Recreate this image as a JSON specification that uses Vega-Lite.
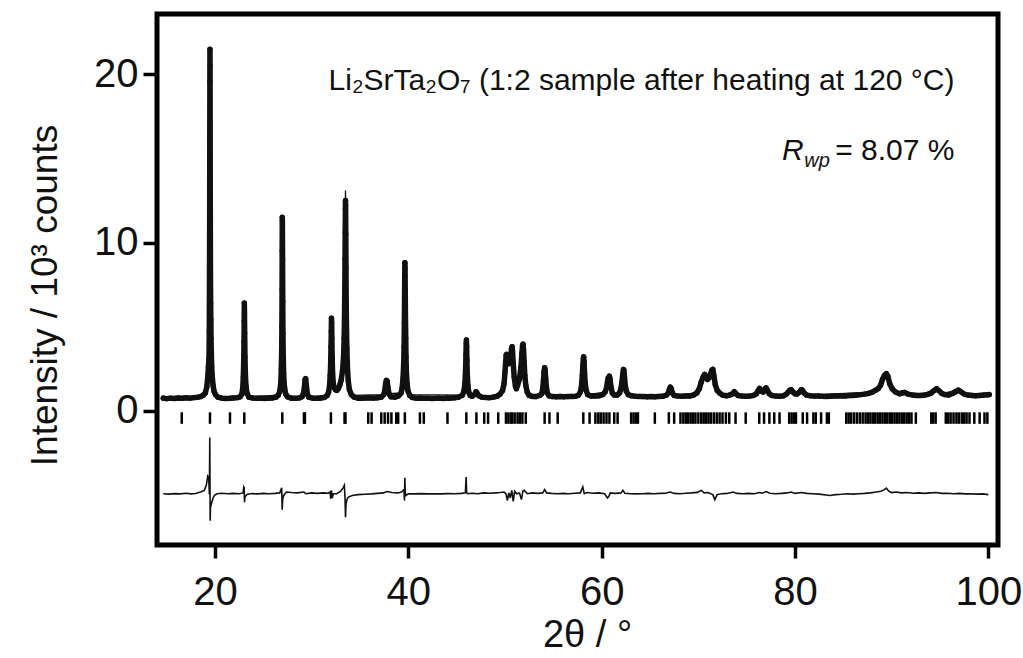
{
  "$schema": "https://vega.github.io/schema/vega-lite/v6.json",
  "width": 841,
  "height": 531,
  "autosize": {"type": "none"},
  "padding": {"left": 157, "top": 14, "right": 25, "bottom": 113},
  "background": "white",
  "config": {
    "font": "Liberation Sans",
    "view": {"stroke": "#000", "strokeWidth": 5},
    "axis": {
      "domain": false, "grid": false, "ticks": true, "tickColor": "#000", "tickWidth": 3.5,
      "labelFont": "Liberation Sans", "labelFontSize": 40, "labelColor": "#111",
      "titleFont": "Liberation Sans", "titleFontSize": 37, "titleFontWeight": "normal", "titleColor": "#111"
    }
  },
  "datasets": {
    "obs": [
      {"t":14.65,"i":0.74},{"t":15.0,"i":0.71},{"t":15.4,"i":0.74},{"t":15.8,"i":0.72},{"t":16.2,"i":0.75},{"t":16.6,"i":0.73},{"t":17.0,"i":0.76},{"t":17.4,"i":0.74},{"t":17.8,"i":0.77},{"t":18.2,"i":0.79},{"t":18.5,"i":0.83},{"t":18.8,"i":0.92},
      {"t":19.0,"i":1.05},{"t":19.15,"i":1.4},{"t":19.25,"i":2.0},{"t":19.32,"i":2.6},{"t":19.38,"i":3.1},{"t":19.41,"i":4.7},{"t":19.43,"i":7.3},{"t":19.44,"i":10.05},{"t":19.45,"i":11.2},{"t":19.46,"i":16.0},{"t":19.47,"i":19.6},{"t":19.48,"i":21.5},{"t":19.49,"i":20.5},{"t":19.51,"i":12.5},{"t":19.53,"i":8.0},{"t":19.55,"i":6.4},{"t":19.57,"i":5.4},{"t":19.59,"i":4.3},{"t":19.62,"i":3.4},{"t":19.66,"i":2.6},{"t":19.72,"i":2.0},{"t":19.8,"i":1.5},{"t":19.9,"i":1.15},{"t":20.05,"i":0.95},{"t":20.3,"i":0.8},
      {"t":20.7,"i":0.74},{"t":21.1,"i":0.72},{"t":21.5,"i":0.73},{"t":21.9,"i":0.75},{"t":22.3,"i":0.77},{"t":22.6,"i":0.82},
      {"t":22.78,"i":0.98},{"t":22.87,"i":1.35},{"t":22.93,"i":2.0},{"t":22.97,"i":2.9},{"t":23.0,"i":4.1},{"t":23.02,"i":5.3},{"t":23.035,"i":6.4},{"t":23.05,"i":5.8},{"t":23.07,"i":4.6},{"t":23.1,"i":3.2},{"t":23.14,"i":2.2},{"t":23.2,"i":1.5},{"t":23.3,"i":1.05},{"t":23.5,"i":0.8},
      {"t":23.9,"i":0.75},{"t":24.3,"i":0.73},{"t":24.7,"i":0.74},{"t":25.1,"i":0.72},{"t":25.5,"i":0.74},{"t":25.9,"i":0.75},{"t":26.3,"i":0.8},{"t":26.55,"i":0.92},
      {"t":26.7,"i":1.15},{"t":26.8,"i":1.6},{"t":26.86,"i":2.5},{"t":26.9,"i":3.6},{"t":26.92,"i":5.0},{"t":26.94,"i":7.2},{"t":26.95,"i":9.5},{"t":26.96,"i":11.5},{"t":26.97,"i":11.3},{"t":26.99,"i":9.0},{"t":27.01,"i":6.5},{"t":27.03,"i":4.6},{"t":27.06,"i":3.2},{"t":27.1,"i":2.2},{"t":27.17,"i":1.5},{"t":27.3,"i":1.0},{"t":27.5,"i":0.82},
      {"t":27.9,"i":0.74},{"t":28.3,"i":0.73},{"t":28.7,"i":0.75},{"t":29.0,"i":0.82},
      {"t":29.15,"i":1.0},{"t":29.25,"i":1.4},{"t":29.32,"i":1.85},{"t":29.38,"i":1.9},{"t":29.45,"i":1.5},{"t":29.55,"i":1.0},{"t":29.7,"i":0.8},
      {"t":30.1,"i":0.74},{"t":30.5,"i":0.73},{"t":30.9,"i":0.74},{"t":31.3,"i":0.78},{"t":31.6,"i":0.9},
      {"t":31.75,"i":1.1},{"t":31.85,"i":1.5},{"t":31.92,"i":2.1},{"t":31.97,"i":2.9},{"t":32.0,"i":3.8},{"t":32.03,"i":4.7},{"t":32.05,"i":5.5},{"t":32.07,"i":5.2},{"t":32.09,"i":4.3},{"t":32.12,"i":3.2},{"t":32.16,"i":2.3},{"t":32.22,"i":1.7},{"t":32.3,"i":1.4},
      {"t":32.45,"i":1.25},{"t":32.6,"i":1.2},{"t":32.75,"i":1.3},{"t":32.9,"i":1.5},{"t":33.05,"i":1.8},{"t":33.2,"i":2.4},{"t":33.3,"i":3.2},{"t":33.36,"i":4.3},{"t":33.4,"i":5.6},{"t":33.43,"i":7.3},{"t":33.45,"i":9.0},{"t":33.47,"i":10.6},{"t":33.49,"i":12.0},{"t":33.5,"i":12.5},{"t":33.51,"i":12.2},{"t":33.53,"i":10.5},{"t":33.55,"i":8.5},{"t":33.57,"i":6.6},{"t":33.6,"i":5.0},{"t":33.64,"i":3.7},{"t":33.7,"i":2.6},{"t":33.78,"i":1.8},{"t":33.9,"i":1.25},{"t":34.1,"i":0.95},{"t":34.4,"i":0.8},
      {"t":34.8,"i":0.74},{"t":35.2,"i":0.73},{"t":35.6,"i":0.75},{"t":36.0,"i":0.76},{"t":36.4,"i":0.74},{"t":36.8,"i":0.76},{"t":37.2,"i":0.8},{"t":37.45,"i":0.95},
      {"t":37.55,"i":1.15},{"t":37.65,"i":1.6},{"t":37.73,"i":1.8},{"t":37.8,"i":1.75},{"t":37.88,"i":1.4},{"t":38.0,"i":1.0},{"t":38.2,"i":0.82},
      {"t":38.6,"i":0.8},{"t":39.0,"i":0.88},{"t":39.25,"i":1.05},
      {"t":39.35,"i":1.3},{"t":39.45,"i":1.9},{"t":39.52,"i":2.8},{"t":39.56,"i":3.8},{"t":39.59,"i":5.2},{"t":39.61,"i":6.6},{"t":39.63,"i":8.0},{"t":39.645,"i":8.8},{"t":39.66,"i":8.5},{"t":39.68,"i":7.2},{"t":39.7,"i":5.7},{"t":39.73,"i":4.3},{"t":39.76,"i":3.2},{"t":39.8,"i":2.3},{"t":39.87,"i":1.6},{"t":39.97,"i":1.15},{"t":40.15,"i":0.9},{"t":40.4,"i":0.78},
      {"t":40.8,"i":0.74},{"t":41.2,"i":0.75},{"t":41.6,"i":0.73},{"t":42.0,"i":0.74},{"t":42.4,"i":0.72},{"t":42.8,"i":0.73},{"t":43.2,"i":0.74},{"t":43.6,"i":0.72},{"t":44.0,"i":0.75},{"t":44.4,"i":0.74},{"t":44.8,"i":0.76},{"t":45.2,"i":0.8},{"t":45.6,"i":0.92},
      {"t":45.75,"i":1.15},{"t":45.85,"i":1.6},{"t":45.92,"i":2.4},{"t":45.96,"i":3.3},{"t":45.99,"i":4.0},{"t":46.01,"i":4.2},{"t":46.03,"i":3.8},{"t":46.06,"i":3.0},{"t":46.1,"i":2.1},{"t":46.16,"i":1.5},{"t":46.25,"i":1.1},{"t":46.4,"i":0.9},
      {"t":46.6,"i":0.85},{"t":46.85,"i":0.95},{"t":47.0,"i":1.12},{"t":47.1,"i":1.05},{"t":47.3,"i":0.88},{"t":47.6,"i":0.8},
      {"t":48.0,"i":0.78},{"t":48.4,"i":0.77},{"t":48.8,"i":0.8},{"t":49.2,"i":0.86},{"t":49.5,"i":0.98},
      {"t":49.75,"i":1.2},{"t":49.9,"i":1.6},{"t":50.0,"i":2.3},{"t":50.07,"i":2.9},{"t":50.12,"i":3.3},{"t":50.16,"i":3.35},{"t":50.2,"i":3.1},{"t":50.3,"i":2.9},{"t":50.4,"i":2.8},{"t":50.5,"i":2.9},{"t":50.6,"i":3.3},{"t":50.68,"i":3.7},{"t":50.73,"i":3.8},{"t":50.78,"i":3.5},{"t":50.85,"i":2.8},{"t":50.95,"i":2.0},{"t":51.08,"i":1.45},{"t":51.18,"i":1.3},{"t":51.3,"i":1.5},{"t":51.5,"i":1.9},{"t":51.65,"i":2.6},{"t":51.75,"i":3.4},{"t":51.82,"i":3.9},{"t":51.87,"i":3.95},{"t":51.92,"i":3.6},{"t":51.98,"i":2.9},{"t":52.05,"i":2.1},{"t":52.15,"i":1.5},{"t":52.3,"i":1.1},{"t":52.5,"i":0.9},
      {"t":52.8,"i":0.84},{"t":53.2,"i":0.83},{"t":53.6,"i":0.9},
      {"t":53.8,"i":1.0},{"t":53.9,"i":1.3},{"t":53.98,"i":1.8},{"t":54.04,"i":2.3},{"t":54.1,"i":2.55},{"t":54.15,"i":2.4},{"t":54.21,"i":1.9},{"t":54.28,"i":1.4},{"t":54.38,"i":1.05},{"t":54.55,"i":0.88},
      {"t":54.9,"i":0.83},{"t":55.3,"i":0.82},{"t":55.7,"i":0.84},{"t":56.1,"i":0.82},{"t":56.5,"i":0.83},{"t":56.9,"i":0.84},{"t":57.3,"i":0.85},{"t":57.6,"i":0.92},
      {"t":57.8,"i":1.1},{"t":57.92,"i":1.5},{"t":58.0,"i":2.1},{"t":58.06,"i":2.7},{"t":58.11,"i":3.1},{"t":58.14,"i":3.2},{"t":58.18,"i":2.9},{"t":58.23,"i":2.2},{"t":58.3,"i":1.6},{"t":58.4,"i":1.2},{"t":58.55,"i":0.95},
      {"t":58.9,"i":0.87},{"t":59.3,"i":0.86},{"t":59.7,"i":0.88},{"t":60.1,"i":0.95},{"t":60.35,"i":1.1},
      {"t":60.5,"i":1.35},{"t":60.6,"i":1.7},{"t":60.68,"i":1.95},{"t":60.74,"i":1.85},{"t":60.8,"i":2.05},{"t":60.86,"i":1.9},{"t":60.95,"i":1.45},{"t":61.1,"i":1.05},{"t":61.3,"i":0.92},
      {"t":61.6,"i":0.92},{"t":61.85,"i":1.05},{"t":62.0,"i":1.3},{"t":62.1,"i":1.7},{"t":62.18,"i":2.15},{"t":62.25,"i":2.45},{"t":62.3,"i":2.4},{"t":62.36,"i":2.0},{"t":62.44,"i":1.5},{"t":62.55,"i":1.15},{"t":62.75,"i":0.95},
      {"t":63.1,"i":0.88},{"t":63.5,"i":0.85},{"t":63.9,"i":0.84},{"t":64.3,"i":0.83},{"t":64.7,"i":0.82},{"t":65.1,"i":0.83},{"t":65.5,"i":0.82},{"t":65.9,"i":0.84},{"t":66.3,"i":0.85},{"t":66.7,"i":0.92},
      {"t":66.9,"i":1.05},{"t":67.0,"i":1.25},{"t":67.1,"i":1.4},{"t":67.2,"i":1.3},{"t":67.32,"i":1.05},{"t":67.5,"i":0.9},
      {"t":67.9,"i":0.86},{"t":68.3,"i":0.85},{"t":68.7,"i":0.86},{"t":69.1,"i":0.87},{"t":69.5,"i":0.92},{"t":69.85,"i":1.05},
      {"t":70.1,"i":1.3},{"t":70.3,"i":1.7},{"t":70.5,"i":2.0},{"t":70.65,"i":2.15},{"t":70.8,"i":2.0},{"t":70.95,"i":1.85},{"t":71.1,"i":1.95},{"t":71.25,"i":2.15},{"t":71.4,"i":2.4},{"t":71.5,"i":2.45},{"t":71.6,"i":2.1},{"t":71.75,"i":1.55},{"t":71.95,"i":1.2},{"t":72.2,"i":1.05},{"t":72.5,"i":0.92},
      {"t":72.9,"i":0.88},{"t":73.25,"i":0.92},{"t":73.55,"i":1.0},{"t":73.72,"i":1.12},{"t":73.9,"i":1.0},{"t":74.1,"i":0.9},
      {"t":74.5,"i":0.86},{"t":74.9,"i":0.85},{"t":75.3,"i":0.86},{"t":75.7,"i":0.9},
      {"t":76.0,"i":1.0},{"t":76.2,"i":1.2},{"t":76.33,"i":1.32},{"t":76.5,"i":1.15},{"t":76.7,"i":1.1},{"t":76.85,"i":1.25},{"t":77.0,"i":1.35},{"t":77.15,"i":1.2},{"t":77.35,"i":1.0},{"t":77.6,"i":0.9},
      {"t":78.0,"i":0.86},{"t":78.4,"i":0.85},{"t":78.8,"i":0.88},{"t":79.1,"i":0.98},
      {"t":79.3,"i":1.1},{"t":79.45,"i":1.2},{"t":79.6,"i":1.25},{"t":79.8,"i":1.1},{"t":80.0,"i":1.0},{"t":80.2,"i":0.98},{"t":80.45,"i":1.1},{"t":80.65,"i":1.25},{"t":80.75,"i":1.22},{"t":80.95,"i":1.05},{"t":81.2,"i":0.92},
      {"t":81.6,"i":0.88},{"t":82.0,"i":0.86},{"t":82.4,"i":0.87},{"t":82.8,"i":0.85},{"t":83.2,"i":0.84},{"t":83.6,"i":0.85},{"t":84.0,"i":0.86},{"t":84.4,"i":0.86},{"t":84.8,"i":0.88},{"t":85.2,"i":0.87},{"t":85.6,"i":0.89},{"t":86.0,"i":0.9},{"t":86.4,"i":0.92},{"t":86.8,"i":0.95},{"t":87.2,"i":0.98},{"t":87.6,"i":1.02},{"t":88.0,"i":1.1},
      {"t":88.3,"i":1.2},{"t":88.6,"i":1.3},{"t":88.85,"i":1.5},{"t":89.05,"i":1.85},{"t":89.25,"i":2.1},{"t":89.45,"i":2.2},{"t":89.6,"i":2.05},{"t":89.8,"i":1.6},{"t":90.05,"i":1.3},{"t":90.4,"i":1.1},{"t":90.8,"i":1.0},{"t":91.1,"i":1.05},{"t":91.35,"i":1.08},{"t":91.7,"i":0.98},{"t":92.2,"i":0.92},
      {"t":92.6,"i":0.9},{"t":93.0,"i":0.9},{"t":93.4,"i":0.92},{"t":93.8,"i":0.98},
      {"t":94.1,"i":1.05},{"t":94.4,"i":1.2},{"t":94.65,"i":1.3},{"t":94.9,"i":1.18},{"t":95.2,"i":1.02},{"t":95.5,"i":0.95},
      {"t":95.9,"i":0.93},{"t":96.3,"i":1.02},{"t":96.6,"i":1.12},{"t":96.9,"i":1.22},{"t":97.2,"i":1.1},{"t":97.5,"i":0.98},{"t":97.9,"i":0.92},
      {"t":98.3,"i":0.9},{"t":98.7,"i":0.88},{"t":99.1,"i":0.9},{"t":99.5,"i":0.92},{"t":99.9,"i":0.94},{"t":100.1,"i":0.95}
    ],
    "calc": [
      {"t":14.65,"i":0.74},{"t":18.5,"i":0.82},{"t":18.8,"i":0.9},{"t":19.0,"i":1.05},{"t":19.15,"i":1.4},{"t":19.25,"i":2.0},{"t":19.32,"i":2.6},{"t":19.38,"i":3.3},{"t":19.42,"i":5.5},{"t":19.45,"i":11.0},{"t":19.47,"i":17.5},{"t":19.485,"i":19.7},{"t":19.5,"i":18.5},{"t":19.52,"i":13.0},{"t":19.55,"i":7.2},{"t":19.6,"i":4.4},{"t":19.66,"i":2.7},{"t":19.72,"i":2.0},{"t":19.8,"i":1.5},{"t":19.9,"i":1.15},{"t":20.05,"i":0.95},{"t":20.3,"i":0.8},
      {"t":22.6,"i":0.82},{"t":22.78,"i":0.98},{"t":22.87,"i":1.35},{"t":22.93,"i":2.0},{"t":22.98,"i":3.3},{"t":23.01,"i":4.9},{"t":23.035,"i":6.3},{"t":23.06,"i":5.3},{"t":23.09,"i":3.6},{"t":23.14,"i":2.2},{"t":23.2,"i":1.5},{"t":23.3,"i":1.05},{"t":23.5,"i":0.8},
      {"t":26.55,"i":0.92},{"t":26.7,"i":1.15},{"t":26.8,"i":1.6},{"t":26.86,"i":2.5},{"t":26.91,"i":4.3},{"t":26.94,"i":7.5},{"t":26.96,"i":11.4},{"t":26.98,"i":10.2},{"t":27.01,"i":6.6},{"t":27.05,"i":3.6},{"t":27.1,"i":2.2},{"t":27.17,"i":1.5},{"t":27.3,"i":1.0},{"t":27.5,"i":0.82},
      {"t":29.0,"i":0.82},{"t":29.15,"i":1.0},{"t":29.25,"i":1.4},{"t":29.35,"i":1.88},{"t":29.45,"i":1.5},{"t":29.55,"i":1.0},{"t":29.7,"i":0.8},
      {"t":31.6,"i":0.9},{"t":31.75,"i":1.1},{"t":31.9,"i":1.9},{"t":31.98,"i":3.1},{"t":32.02,"i":4.6},{"t":32.05,"i":5.4},{"t":32.08,"i":4.9},{"t":32.12,"i":3.3},{"t":32.2,"i":1.8},{"t":32.3,"i":1.4},{"t":32.6,"i":1.2},{"t":32.9,"i":1.5},{"t":33.2,"i":2.4},{"t":33.33,"i":3.6},{"t":33.4,"i":5.8},{"t":33.45,"i":9.2},{"t":33.48,"i":12.0},{"t":33.5,"i":13.1},{"t":33.52,"i":11.8},{"t":33.56,"i":7.5},{"t":33.6,"i":5.0},{"t":33.65,"i":3.5},{"t":33.72,"i":2.4},{"t":33.8,"i":1.7},{"t":33.95,"i":1.15},{"t":34.2,"i":0.9},
      {"t":37.45,"i":0.95},{"t":37.55,"i":1.15},{"t":37.65,"i":1.6},{"t":37.76,"i":1.8},{"t":37.88,"i":1.4},{"t":38.0,"i":1.0},
      {"t":39.25,"i":1.05},{"t":39.4,"i":1.5},{"t":39.5,"i":2.4},{"t":39.57,"i":4.0},{"t":39.61,"i":6.4},{"t":39.645,"i":8.7},{"t":39.67,"i":8.0},{"t":39.7,"i":5.9},{"t":39.75,"i":3.5},{"t":39.8,"i":2.3},{"t":39.9,"i":1.45},{"t":40.1,"i":0.95},
      {"t":45.6,"i":0.92},{"t":45.8,"i":1.3},{"t":45.9,"i":2.0},{"t":45.96,"i":3.3},{"t":46.01,"i":4.15},{"t":46.05,"i":3.4},{"t":46.1,"i":2.2},{"t":46.2,"i":1.3},{"t":46.4,"i":0.9},{"t":47.0,"i":1.1},{"t":47.6,"i":0.8},
      {"t":49.5,"i":0.98},{"t":49.75,"i":1.2},{"t":49.9,"i":1.6},{"t":50.0,"i":2.3},{"t":50.08,"i":3.0},{"t":50.15,"i":3.4},{"t":50.22,"i":3.1},{"t":50.35,"i":2.85},{"t":50.5,"i":2.95},{"t":50.62,"i":3.4},{"t":50.72,"i":3.85},{"t":50.8,"i":3.4},{"t":50.9,"i":2.4},{"t":51.05,"i":1.55},{"t":51.18,"i":1.3},{"t":51.35,"i":1.6},{"t":51.55,"i":2.1},{"t":51.7,"i":3.0},{"t":51.8,"i":3.8},{"t":51.87,"i":4.05},{"t":51.94,"i":3.4},{"t":52.02,"i":2.4},{"t":52.15,"i":1.5},{"t":52.3,"i":1.1},{"t":52.5,"i":0.9},
      {"t":53.6,"i":0.9},{"t":53.8,"i":1.0},{"t":53.95,"i":1.6},{"t":54.05,"i":2.35},{"t":54.1,"i":2.5},{"t":54.17,"i":2.2},{"t":54.25,"i":1.6},{"t":54.38,"i":1.05},{"t":54.55,"i":0.88},
      {"t":57.6,"i":0.92},{"t":57.8,"i":1.1},{"t":57.95,"i":1.75},{"t":58.05,"i":2.6},{"t":58.13,"i":3.15},{"t":58.19,"i":2.8},{"t":58.26,"i":1.9},{"t":58.35,"i":1.35},{"t":58.55,"i":0.95},
      {"t":60.35,"i":1.1},{"t":60.5,"i":1.35},{"t":60.65,"i":1.9},{"t":60.75,"i":1.95},{"t":60.82,"i":2.0},{"t":60.9,"i":1.7},{"t":61.0,"i":1.3},{"t":61.2,"i":1.0},{"t":61.85,"i":1.05},{"t":62.05,"i":1.45},{"t":62.18,"i":2.15},{"t":62.26,"i":2.5},{"t":62.33,"i":2.25},{"t":62.42,"i":1.6},{"t":62.55,"i":1.15},{"t":62.75,"i":0.95},
      {"t":66.7,"i":0.92},{"t":67.1,"i":1.4},{"t":67.5,"i":0.9},{"t":69.85,"i":1.05},{"t":70.3,"i":1.7},{"t":70.62,"i":2.2},{"t":70.95,"i":1.85},{"t":71.45,"i":2.5},{"t":71.75,"i":1.55},{"t":72.2,"i":1.05},{"t":72.5,"i":0.92},{"t":73.72,"i":1.12},{"t":74.1,"i":0.9},
      {"t":75.7,"i":0.9},{"t":76.33,"i":1.32},{"t":76.7,"i":1.1},{"t":77.0,"i":1.35},{"t":77.6,"i":0.9},{"t":79.1,"i":0.98},{"t":79.6,"i":1.25},{"t":80.2,"i":0.98},{"t":80.7,"i":1.25},{"t":81.2,"i":0.92},
      {"t":88.0,"i":1.1},{"t":88.6,"i":1.3},{"t":89.05,"i":1.85},{"t":89.45,"i":2.22},{"t":89.8,"i":1.6},{"t":90.4,"i":1.1},{"t":91.3,"i":1.08},{"t":92.2,"i":0.92},{"t":94.1,"i":1.05},{"t":94.65,"i":1.3},{"t":95.2,"i":1.02},{"t":96.9,"i":1.22},{"t":97.9,"i":0.92},{"t":100.1,"i":0.95}
    ],
    "diff": [
      {"t":14.65,"i":-4.95},{"t":15.2,"i":-4.97},{"t":15.8,"i":-4.94},{"t":16.4,"i":-4.96},{"t":17.0,"i":-4.92},{"t":17.5,"i":-4.96},{"t":18.0,"i":-4.94},{"t":18.5,"i":-4.85},{"t":18.9,"i":-4.75},{"t":19.1,"i":-4.45},{"t":19.25,"i":-3.9},{"t":19.35,"i":-4.0},{"t":19.42,"i":-5.0},{"t":19.46,"i":-1.6},{"t":19.48,"i":-4.0},{"t":19.5,"i":-6.55},{"t":19.53,"i":-5.8},{"t":19.6,"i":-5.6},{"t":19.7,"i":-5.4},{"t":19.8,"i":-5.2},{"t":19.95,"i":-5.05},{"t":20.2,"i":-4.95},
      {"t":20.7,"i":-4.92},{"t":21.3,"i":-4.95},{"t":21.9,"i":-4.93},{"t":22.5,"i":-4.95},{"t":22.9,"i":-4.9},{"t":22.98,"i":-4.55},{"t":23.02,"i":-4.6},{"t":23.05,"i":-5.45},{"t":23.1,"i":-5.15},{"t":23.3,"i":-5.0},{"t":23.8,"i":-4.94},{"t":24.4,"i":-4.96},{"t":25.0,"i":-4.93},{"t":25.6,"i":-4.95},{"t":26.2,"i":-4.93},{"t":26.7,"i":-4.9},{"t":26.9,"i":-4.6},{"t":26.95,"i":-5.9},{"t":27.0,"i":-5.3},{"t":27.1,"i":-5.05},{"t":27.4,"i":-4.85},
      {"t":27.9,"i":-4.88},{"t":28.5,"i":-4.9},{"t":29.2,"i":-4.85},{"t":29.4,"i":-4.95},{"t":30.0,"i":-4.9},{"t":30.6,"i":-4.93},{"t":31.2,"i":-4.9},{"t":31.7,"i":-4.92},{"t":31.9,"i":-4.85},{"t":31.98,"i":-5.25},{"t":32.05,"i":-4.75},{"t":32.12,"i":-5.2},{"t":32.25,"i":-4.95},{"t":32.6,"i":-4.95},{"t":33.0,"i":-4.8},{"t":33.25,"i":-4.6},{"t":33.38,"i":-4.45},{"t":33.45,"i":-5.2},{"t":33.5,"i":-6.35},{"t":33.55,"i":-5.6},{"t":33.65,"i":-5.3},{"t":33.8,"i":-5.15},{"t":34.2,"i":-5.05},
      {"t":34.8,"i":-5.0},{"t":35.5,"i":-4.98},{"t":36.2,"i":-4.96},{"t":36.8,"i":-4.93},{"t":37.4,"i":-4.9},{"t":37.8,"i":-4.82},{"t":38.3,"i":-4.88},{"t":38.9,"i":-4.9},{"t":39.3,"i":-4.85},{"t":39.55,"i":-4.7},{"t":39.6,"i":-5.35},{"t":39.64,"i":-4.0},{"t":39.68,"i":-4.9},{"t":39.75,"i":-5.05},{"t":40.0,"i":-4.95},
      {"t":40.6,"i":-4.96},{"t":41.3,"i":-4.94},{"t":42.0,"i":-4.96},{"t":42.7,"i":-4.95},{"t":43.4,"i":-4.96},{"t":44.1,"i":-4.94},{"t":44.8,"i":-4.95},{"t":45.5,"i":-4.93},{"t":45.9,"i":-4.9},{"t":45.98,"i":-3.95},{"t":46.03,"i":-4.85},{"t":46.1,"i":-4.95},{"t":46.6,"i":-4.92},{"t":47.2,"i":-4.95},{"t":47.8,"i":-4.9},{"t":48.4,"i":-4.92},{"t":49.0,"i":-4.9},{"t":49.5,"i":-4.88},{"t":49.9,"i":-4.85},
      {"t":50.1,"i":-4.95},{"t":50.25,"i":-5.35},{"t":50.4,"i":-4.9},{"t":50.55,"i":-5.2},{"t":50.7,"i":-4.75},{"t":50.85,"i":-5.4},{"t":51.0,"i":-4.8},{"t":51.2,"i":-4.95},{"t":51.5,"i":-4.9},{"t":51.7,"i":-5.3},{"t":51.85,"i":-4.8},{"t":52.0,"i":-4.75},{"t":52.3,"i":-4.95},{"t":52.8,"i":-4.9},{"t":53.4,"i":-4.93},{"t":53.9,"i":-4.9},{"t":54.1,"i":-4.7},{"t":54.3,"i":-4.9},
      {"t":54.8,"i":-4.93},{"t":55.4,"i":-4.95},{"t":56.0,"i":-4.93},{"t":56.6,"i":-4.95},{"t":57.2,"i":-4.92},{"t":57.8,"i":-4.9},{"t":58.05,"i":-4.55},{"t":58.2,"i":-4.95},{"t":58.5,"i":-4.88},{"t":59.1,"i":-4.92},{"t":59.7,"i":-4.9},{"t":60.3,"i":-4.95},{"t":60.6,"i":-5.2},{"t":60.75,"i":-5.1},{"t":60.9,"i":-4.9},{"t":61.4,"i":-4.93},{"t":62.0,"i":-4.9},{"t":62.2,"i":-4.75},{"t":62.4,"i":-4.92},
      {"t":63.0,"i":-4.95},{"t":63.6,"i":-4.96},{"t":64.2,"i":-4.95},{"t":64.8,"i":-4.93},{"t":65.4,"i":-4.95},{"t":66.0,"i":-4.93},{"t":66.6,"i":-4.92},{"t":67.1,"i":-4.85},{"t":67.5,"i":-4.93},{"t":68.1,"i":-4.95},{"t":68.7,"i":-4.92},{"t":69.3,"i":-4.9},{"t":69.9,"i":-4.87},{"t":70.3,"i":-4.75},{"t":70.6,"i":-4.9},{"t":71.0,"i":-4.88},{"t":71.5,"i":-5.0},{"t":71.7,"i":-5.3},{"t":71.95,"i":-5.0},
      {"t":72.4,"i":-4.95},{"t":73.0,"i":-4.93},{"t":73.6,"i":-4.85},{"t":74.0,"i":-4.93},{"t":74.6,"i":-4.95},{"t":75.2,"i":-4.93},{"t":75.8,"i":-4.95},{"t":76.3,"i":-4.88},{"t":76.6,"i":-4.92},{"t":77.0,"i":-4.82},{"t":77.4,"i":-4.92},{"t":78.0,"i":-4.95},{"t":78.6,"i":-4.93},{"t":79.2,"i":-4.9},{"t":79.6,"i":-4.85},{"t":80.0,"i":-4.93},{"t":80.7,"i":-4.88},{"t":81.2,"i":-4.93},
      {"t":81.8,"i":-4.95},{"t":82.5,"i":-4.97},{"t":83.2,"i":-5.02},{"t":83.6,"i":-5.05},{"t":84.2,"i":-5.0},{"t":84.8,"i":-4.98},{"t":85.4,"i":-4.95},{"t":86.0,"i":-4.97},{"t":86.6,"i":-4.95},{"t":87.2,"i":-4.93},{"t":87.8,"i":-4.9},{"t":88.4,"i":-4.85},{"t":88.9,"i":-4.8},{"t":89.2,"i":-4.72},{"t":89.45,"i":-4.62},{"t":89.7,"i":-4.8},{"t":90.0,"i":-4.88},{"t":90.5,"i":-4.85},
      {"t":91.0,"i":-4.9},{"t":91.6,"i":-4.88},{"t":92.2,"i":-4.92},{"t":92.8,"i":-4.9},{"t":93.4,"i":-4.93},{"t":94.0,"i":-4.9},{"t":94.6,"i":-4.88},{"t":95.2,"i":-4.93},{"t":95.8,"i":-4.92},{"t":96.4,"i":-4.95},{"t":97.0,"i":-4.93},{"t":97.6,"i":-4.96},{"t":98.2,"i":-4.95},{"t":98.8,"i":-4.97},{"t":99.4,"i":-4.96},{"t":100.0,"i":-5.0}
    ],
    "bragg": [
      {"t":16.56},{"t":19.48},{"t":21.55},{"t":23.03},{"t":26.96},{"t":29.2},{"t":29.3},{"t":31.99},{"t":33.4},{"t":33.5},{"t":35.85},{"t":36.2},{"t":37.2},{"t":37.55},{"t":37.9},{"t":38.25},{"t":38.75},{"t":38.95},{"t":39.64},{"t":41.2},{"t":41.6},{"t":44.05},{"t":46.0},{"t":47.04},{"t":47.85},{"t":48.25},{"t":49.3},
      {"t":50.1},{"t":50.35},{"t":50.6},{"t":50.75},{"t":51.0},{"t":51.3},{"t":51.55},{"t":51.8},{"t":52.15},{"t":54.1},{"t":54.6},{"t":55.45},{"t":58.1},{"t":58.75},{"t":59.35},{"t":59.65},{"t":59.9},{"t":60.2},{"t":60.5},{"t":60.8},{"t":61.3},{"t":61.65},{"t":63.05},{"t":63.3},{"t":63.55},{"t":63.75},{"t":65.5},
      {"t":66.95},{"t":67.5},{"t":68.15},{"t":68.45},{"t":68.7},{"t":68.95},{"t":69.2},{"t":69.45},{"t":69.7},{"t":70.0},{"t":70.3},{"t":70.55},{"t":70.8},{"t":71.05},{"t":71.3},{"t":71.6},{"t":71.9},{"t":72.2},{"t":72.5},{"t":72.85},{"t":73.2},{"t":73.85},{"t":74.9},
      {"t":76.3},{"t":76.8},{"t":77.35},{"t":77.85},{"t":78.4},{"t":79.4},{"t":79.65},{"t":79.9},{"t":80.1},{"t":80.8},{"t":81.25},{"t":81.9},{"t":82.15},{"t":82.7},{"t":83.3},{"t":83.5},
      {"t":85.3},{"t":85.55},{"t":85.8},{"t":86.1},{"t":86.4},{"t":86.7},{"t":87.0},{"t":87.3},{"t":87.55},{"t":87.8},{"t":88.05},{"t":88.3},{"t":88.55},{"t":88.8},{"t":89.05},{"t":89.3},{"t":89.55},{"t":89.8},{"t":90.05},{"t":90.3},{"t":90.55},{"t":90.8},{"t":91.05},{"t":91.3},{"t":91.55},{"t":91.8},{"t":92.05},{"t":92.5},
      {"t":94.1},{"t":94.3},{"t":94.55},{"t":95.6},{"t":95.85},{"t":96.1},{"t":96.4},{"t":96.7},{"t":96.95},{"t":97.25},{"t":97.5},{"t":97.75},{"t":98.05},{"t":98.55},{"t":99.1},{"t":99.6},{"t":99.9}
    ],
    "notes": [
      {"t": 96.5, "i": 19.05, "label": "Li₂SrTa₂O₇ (1:2 sample after heating at 120 °C)"},
      {"t": 96.5, "i": 14.9, "label": "= 8.07 %"}
    ],
    "rsym": [
      {"t": 80.9, "i": 14.9, "label": "R"}
    ],
    "rsub": [
      {"t": 80.95, "i": 14.9, "label": "wp"}
    ]
  },
  "layer": [
    {
      "data": {"name": "obs"},
      "mark": {"type": "line", "color": "#111", "strokeWidth": 5.5, "strokeJoin": "round", "strokeCap": "round"},
      "encoding": {
        "x": {
          "field": "t", "type": "quantitative",
          "scale": {"domain": [14, 101], "nice": false, "zero": false},
          "axis": {"values": [20, 40, 60, 80, 100], "title": "2θ  /  °", "tickSize": 13, "labelPadding": 14, "titleX": 430, "titleY": 101, "titleBaseline": "alphabetic", "titleAlign": "center", "titleFontSize": 38}
        },
        "y": {
          "field": "i", "type": "quantitative",
          "scale": {"domain": [-8, 23.6], "nice": false, "zero": false},
          "axis": {"values": [0, 10, 20], "title": "Intensity  /  10³ counts", "tickSize": 14, "labelPadding": 5, "titleX": -112, "titleY": 281, "titleAngle": -90, "titleAlign": "center", "titleBaseline": "middle"}
        }
      }
    },
    {
      "data": {"name": "obs"},
      "mark": {"type": "circle", "color": "#111", "size": 28, "opacity": 1},
      "encoding": {"x": {"field": "t", "type": "quantitative"}, "y": {"field": "i", "type": "quantitative"}}
    },
    {
      "data": {"name": "calc"},
      "mark": {"type": "line", "color": "#111", "strokeWidth": 1.3},
      "encoding": {"x": {"field": "t", "type": "quantitative"}, "y": {"field": "i", "type": "quantitative"}}
    },
    {
      "data": {"name": "diff"},
      "mark": {"type": "line", "color": "#111", "strokeWidth": 1.6},
      "encoding": {"x": {"field": "t", "type": "quantitative"}, "y": {"field": "i", "type": "quantitative"}}
    },
    {
      "data": {"name": "bragg"},
      "mark": {"type": "tick", "orient": "vertical", "color": "#000", "thickness": 2.5, "size": 11.5, "yOffset": 7.5, "opacity": 1},
      "encoding": {"x": {"field": "t", "type": "quantitative"}, "y": {"datum": 0, "type": "quantitative"}}
    },
    {
      "data": {"name": "notes"},
      "mark": {"type": "text", "font": "Liberation Sans", "fontSize": 30, "align": "right", "baseline": "alphabetic", "color": "#111"},
      "encoding": {"x": {"field": "t", "type": "quantitative"}, "y": {"field": "i", "type": "quantitative"}, "text": {"field": "label"}}
    },
    {
      "data": {"name": "rsym"},
      "mark": {"type": "text", "font": "Liberation Sans", "fontSize": 30, "fontStyle": "italic", "align": "right", "baseline": "alphabetic", "color": "#111"},
      "encoding": {"x": {"field": "t", "type": "quantitative"}, "y": {"field": "i", "type": "quantitative"}, "text": {"field": "label"}}
    },
    {
      "data": {"name": "rsub"},
      "mark": {"type": "text", "font": "Liberation Sans", "fontSize": 20, "fontStyle": "italic", "align": "left", "baseline": "alphabetic", "dy": 7, "color": "#111"},
      "encoding": {"x": {"field": "t", "type": "quantitative"}, "y": {"field": "i", "type": "quantitative"}, "text": {"field": "label"}}
    }
  ]
}
